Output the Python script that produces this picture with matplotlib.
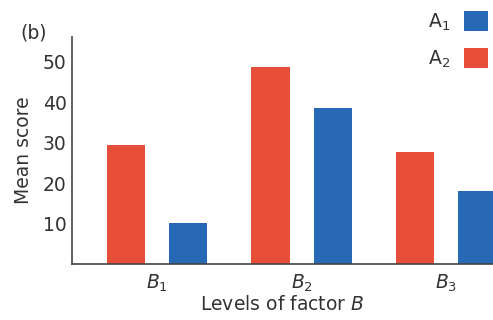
import matplotlib
matplotlib.use("Agg")
import matplotlib.pyplot as plt
import numpy as np

groups = ["$B_1$", "$B_2$", "$B_3$"]
series_names = ["A$_1$", "A$_2$"]
a1_values = [10.1, 38.5, 18.0]
a2_values = [29.3, 48.7, 27.6]
ytick_values = [10, 20, 30, 40, 50]

RED = "#E64E3A"
BLUE = "#2869B6"
TXT = "#333333"

plt.rcParams["font.family"] = ["DejaVu Sans"]

fig = plt.figure(figsize=(4.93, 3.20), dpi=100)
ax = fig.add_axes([72/493, 56/320, 421/493, 227/320])

x = np.arange(len(groups))
off = 0.2145
w = 0.263
b2 = ax.bar(x - off, a2_values, width=w, color=RED, label=series_names[1])
b1 = ax.bar(x + off, a1_values, width=w, color=BLUE, label=series_names[0])

ax.set_xlim(-0.588, 2.325)
ax.set_ylim(0, 56.05)
ax.set_xticks(x)
ax.set_xticklabels(groups)
ax.set_yticks(ytick_values)
ax.tick_params(axis="both", length=0, labelsize=13.5, colors=TXT)
ax.tick_params(axis="y", pad=4)
ax.tick_params(axis="x", pad=6)
for s in ["top", "right"]:
    ax.spines[s].set_visible(False)
for s in ["left", "bottom"]:
    ax.spines[s].set_color("#444444")
    ax.spines[s].set_linewidth(1.2)

ax.set_ylabel("Mean score", fontsize=13.5, color=TXT, labelpad=7)
ax.set_xlabel("Levels of factor $B$", fontsize=13.5, color=TXT, labelpad=1)

fig.text(34/493, 1 - 33/320, "(b)", fontsize=13.5, color=TXT, ha="center", va="center")

leg = fig.legend(handles=[b1, b2], labels=series_names, loc="upper right",
                 bbox_to_anchor=(488/493, 1 - 11/320), frameon=False,
                 markerfirst=False, fontsize=13.5, handlelength=1.3,
                 handleheight=1.3, labelspacing=0.8, handletextpad=0.7,
                 borderpad=0, borderaxespad=0, labelcolor=TXT)

fig.savefig("out.png", dpi=100)
